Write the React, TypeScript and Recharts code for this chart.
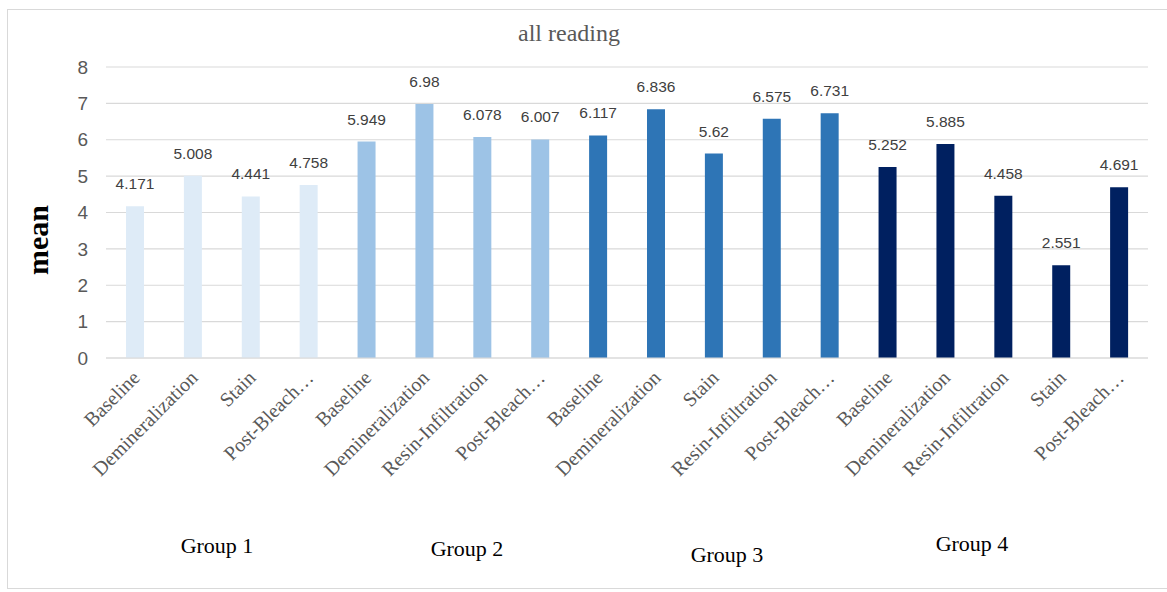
import React from "react";
import { BarChart, Bar, XAxis, YAxis, CartesianGrid, Cell, LabelList } from "recharts";

const groups = ["Group 1", "Group 2", "Group 3", "Group 4"];
const groupColors = ["#DEEBF7", "#9DC3E6", "#2E75B6", "#002060"];

const g1Stages = ["Baseline", "Demineralization", "Stain", "Post-Bleach…"];
const g1Means = [4.171, 5.008, 4.441, 4.758];

const g2Stages = ["Baseline", "Demineralization", "Resin-Infiltration", "Post-Bleach…"];
const g2Means = [5.949, 6.98, 6.078, 6.007];

const g3Stages = ["Baseline", "Demineralization", "Stain", "Resin-Infiltration", "Post-Bleach…"];
const g3Means = [6.117, 6.836, 5.62, 6.575, 6.731];

const g4Stages = ["Baseline", "Demineralization", "Resin-Infiltration", "Stain", "Post-Bleach…"];
const g4Means = [5.252, 5.885, 4.458, 2.551, 4.691];

const yTicks = [0, 1, 2, 3, 4, 5, 6, 7, 8];

// label boxes under the axis, one per group (centre points)
const groupLabelPos = [
  { left: 217, top: 547 },
  { left: 467, top: 550 },
  { left: 727, top: 556 },
  { left: 972, top: 545 },
];

const stageSets = [g1Stages, g2Stages, g3Stages, g4Stages];
const meanSets = [g1Means, g2Means, g3Means, g4Means];

const rows = stageSets.flatMap((stages, gi) =>
  stages.map((stage, si) => ({
    key: `${gi}-${si}`,
    stage,
    group: gi,
    mean: meanSets[gi][si],
  }))
);

const serif = "'Liberation Serif', 'Times New Roman', serif";
const sans = "'Liberation Sans', Arial, sans-serif";

function StageTick({ x, y, payload }: any) {
  const row = rows[payload.index];
  return (
    <g transform={`translate(${x + 6},${y + 13})`}>
      <text x={0} y={0} transform="rotate(-45)" textAnchor="end" fill="#595959" fontFamily={serif} fontSize={20}>
        {row ? row.stage : payload.value}
      </text>
    </g>
  );
}

export default function App() {
  return (
    <div style={{ position: "absolute", left: 0, top: 0, width: 1167, height: 592, background: "#fff", overflow: "hidden" }}>
      <div style={{ position: "absolute", left: 7, top: 9, width: 1170, height: 580, border: "1px solid #d9d9d9", boxSizing: "border-box" }} />
      <div
        style={{
          position: "absolute",
          left: 469,
          width: 200,
          top: 21,
          lineHeight: "24px",
          textAlign: "center",
          fontFamily: serif,
          fontSize: 24,
          color: "#595959",
        }}
      >
        all reading
      </div>
      <div
        style={{
          position: "absolute",
          left: 38,
          top: 240,
          transform: "translate(-50%, -50%) rotate(-90deg)",
          fontFamily: serif,
          fontSize: 30,
          fontWeight: "bold",
          lineHeight: "30px",
          color: "#000",
          whiteSpace: "nowrap",
        }}
      >
        mean
      </div>
      <BarChart
        width={1167}
        height={592}
        data={rows}
        margin={{ top: 67, right: 19, bottom: 0, left: 46 }}
        barSize={18}
      >
        <CartesianGrid vertical={false} stroke="#d9d9d9" strokeWidth={1.2} />
        <XAxis
          dataKey="key"
          interval={0}
          height={234}
          axisLine={{ stroke: "#d9d9d9", strokeWidth: 1.2 }}
          tickLine={false}
          tick={<StageTick />}
        />
        <YAxis
          domain={[0, 8]}
          ticks={yTicks}
          width={60}
          axisLine={false}
          tickLine={false}
          tickMargin={12}
          tick={{ fill: "#595959", fontSize: 19, fontFamily: sans }}
        />
        <Bar dataKey="mean" isAnimationActive={false}>
          {rows.map((r) => (
            <Cell key={r.key} fill={groupColors[r.group]} />
          ))}
          <LabelList dataKey="mean" position="top" offset={17} fill="#404040" fontSize={15.5} fontFamily={sans} />
        </Bar>
      </BarChart>
      {groups.map((g, i) => (
        <div
          key={g}
          style={{
            position: "absolute",
            left: groupLabelPos[i].left - 60,
            width: 120,
            top: groupLabelPos[i].top - 12,
            lineHeight: "22px",
            textAlign: "center",
            fontFamily: serif,
            fontSize: 22,
            color: "#000",
          }}
        >
          {g}
        </div>
      ))}
    </div>
  );
}
